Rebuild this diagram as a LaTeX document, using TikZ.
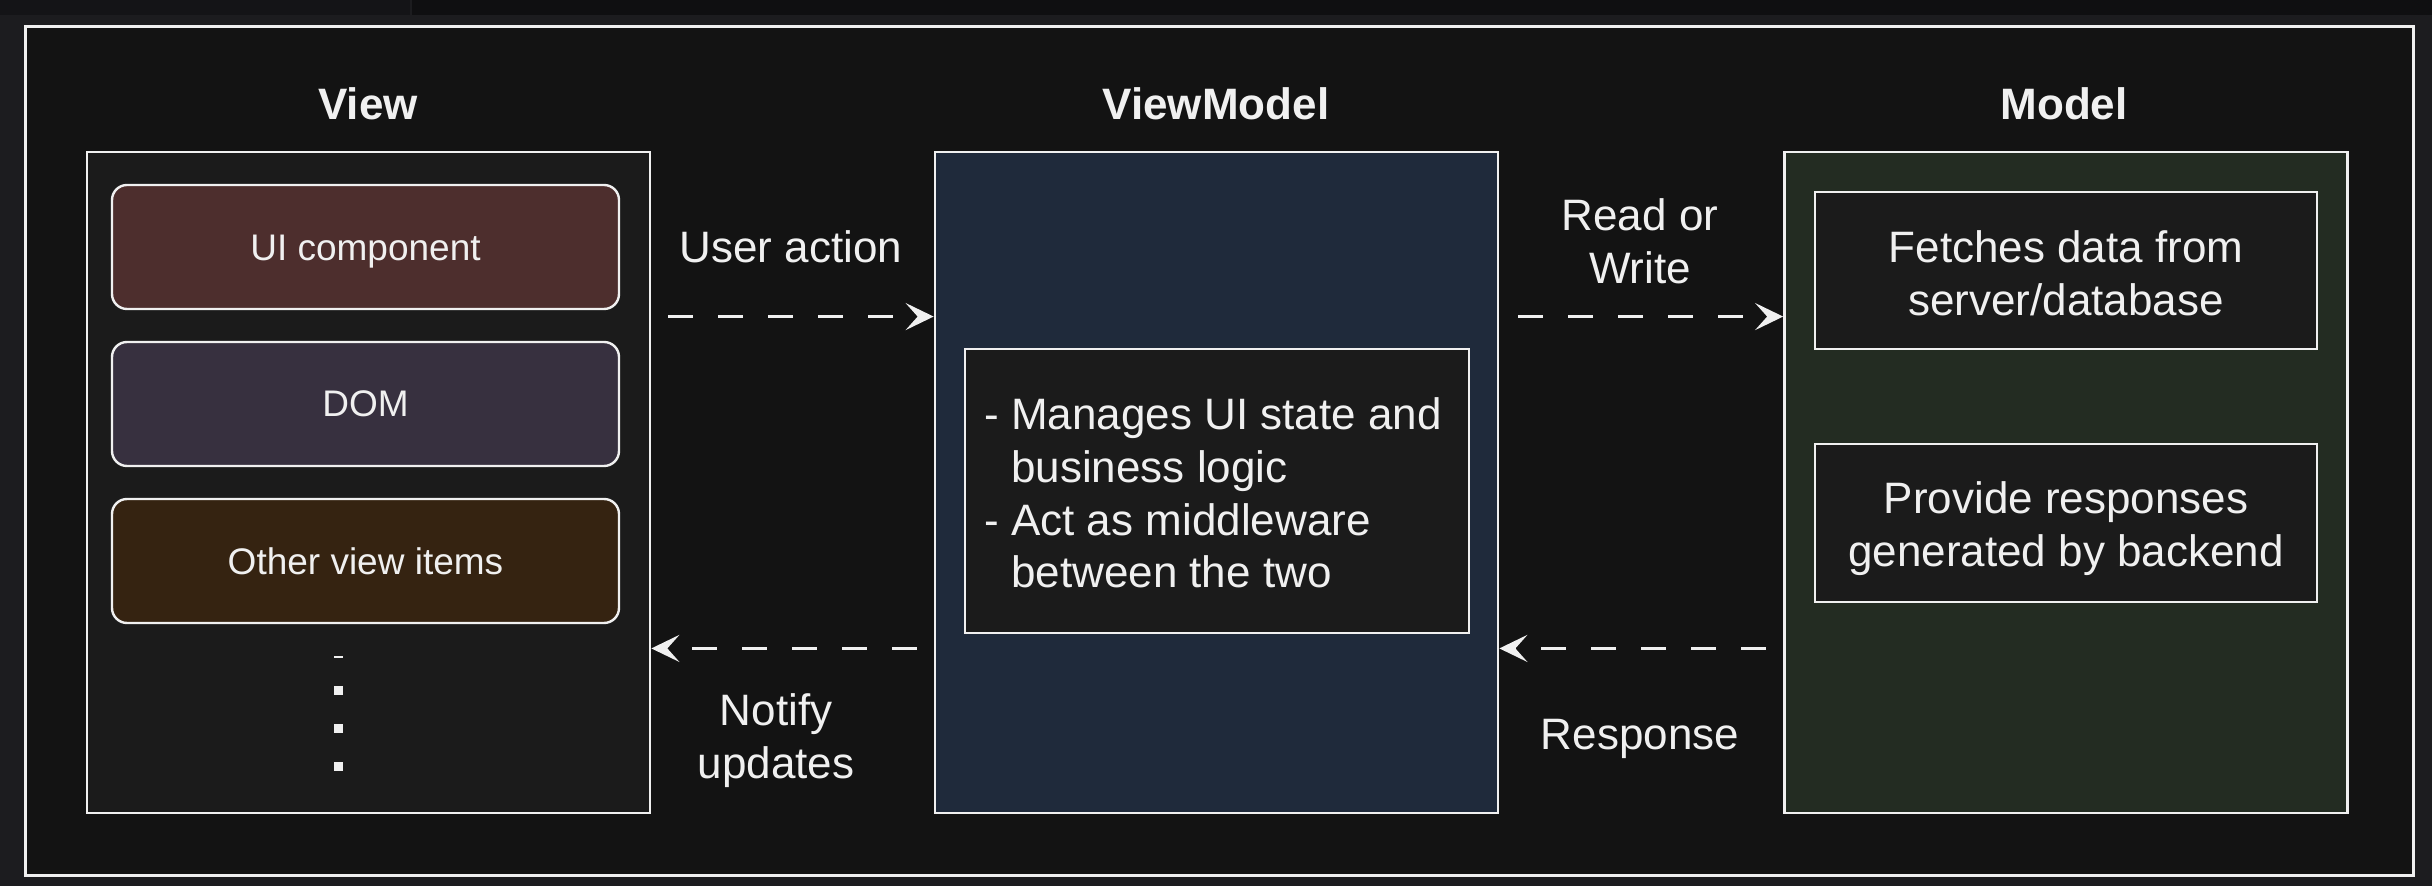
\documentclass[tikz,border=0pt]{standalone}
\usepackage{fontspec}
\setmainfont{Liberation Sans}
\usetikzlibrary{arrows.meta,calc}
\definecolor{pagebg}{HTML}{1C1C1F}
\definecolor{stripL}{HTML}{141417}
\definecolor{stripR}{HTML}{0F0F11}
\definecolor{framebg}{HTML}{131313}
\definecolor{viewbg}{HTML}{1B1B1B}
\definecolor{uibg}{HTML}{4D2E2D}
\definecolor{dombg}{HTML}{37303F}
\definecolor{othbg}{HTML}{352311}
\definecolor{vmbg}{HTML}{1F2A3B}
\definecolor{modelbg}{HTML}{232C22}
\definecolor{inbg}{HTML}{1B1B1B}
\definecolor{linec}{HTML}{F0F0F0}
\definecolor{txt}{HTML}{F0F0F0}
\begin{document}
\begin{tikzpicture}[x=0.5pt,y=-0.5pt,
  bigfont/.style={font=\fontsize{22}{26.4}\selectfont},
  smallfont/.style={font=\fontsize{18.5}{22.2}\selectfont},
  titlefont/.style={font=\bfseries\fontsize{22}{26.4}\selectfont},
  outerframe/.style={draw=linec, line width=1.5pt, fill=framebg, inner sep=0pt},
  panel/.style={draw=linec, line width=1.35pt, inner sep=0pt, minimum width=281.5pt, minimum height=330.5pt},
  item/.style={draw=linec, line width=1.2pt, rounded corners=7.5pt, minimum width=253.5pt, minimum height=62pt, inner sep=0pt},
  inbox/.style={draw=linec, line width=1.1pt, fill=inbg, inner sep=0pt},
  lbl/.style={bigfont, text=txt, align=center, inner sep=0pt},
  slbl/.style={smallfont, text=txt, align=center, inner sep=0pt},
  ttl/.style={titlefont, text=txt, inner sep=0pt},
  dotsq/.style={fill=linec, inner sep=0pt, minimum size=4.5pt},
  flow/.style={draw=linec, line width=1.6pt, dash pattern=on 12.5pt off 12.5pt,
    -{Stealth[length=14pt,width=13.5pt,inset=6pt]}}
]
\useasboundingbox (0,0) rectangle (2432,886);
% page background
\fill[pagebg] (0,0) rectangle (2432,886);
\fill[stripL] (0,0) rectangle (410,15);
\fill[stripR] (412,0) rectangle (2432,15);

% outer frame
\node[outerframe, minimum width=1194pt, minimum height=424.5pt] (frame) at (1219,451.5) {};

% titles
\node[ttl] (tview) at (368,104) {View};
\node[ttl] (tvm) at (1216,104) {ViewModel};
\node[ttl] (tmodel) at (2064,104) {Model};

% panels
\node[panel, fill=viewbg] (view) at (368.5,482.5) {};
\node[panel, fill=vmbg] (vm) at (1216.5,482.5) {};
\node[panel, fill=modelbg] (model) at (2066,482.5) {};

% view items
\node[item, fill=uibg] (ui) at (365.5,247) {};
\node[item, fill=dombg] (dom) at (365.5,404) {};
\node[item, fill=othbg] (oth) at (365.5,561) {};
\node[slbl] (uitxt) at ($(ui.center)+(0,5)$) {UI component};
\node[slbl] (domtxt) at (dom.center) {DOM};
\node[slbl] (othtxt) at (oth.center) {Other view items};
\node[fill=linec, inner sep=0pt, minimum width=4.5pt, minimum height=1pt] (dash0) at (338,657) {};
\node[dotsq] (dot1) at (338,691) {};
\node[dotsq] (dot2) at (338,729) {};
\node[dotsq] (dot3) at (338,767) {};

% viewmodel text
\node[inbox, minimum width=252pt, minimum height=142pt] (vmbox) at (1217,491) {};
\node[lbl, align=left] (vmtxt) at ($(vmbox.center)+(-4,2)$)
  {- Manages UI state and\\\phantom{- }business logic\\- Act as middleware\\\phantom{- }between the two};

% model boxes
\node[inbox, minimum width=251pt, minimum height=78.5pt] (fetch) at (2066,270.5) {};
\node[inbox, minimum width=251pt, minimum height=79pt] (provide) at (2066,523) {};
\node[lbl] (fetchtxt) at ($(fetch.center)+(0,3)$) {Fetches data from\\server/database};
\node[lbl] (providetxt) at ($(provide.center)+(0,6)$) {Provide responses\\generated by backend};

% connectors
\draw[flow] ($(view.north east)!0.25!(view.south east)+(17,0)$) -- ($(vm.north west)!0.25!(vm.south west)$);
\draw[flow] ($(vm.north east)!0.25!(vm.south east)+(19,0)$) -- ($(model.north west)!0.25!(model.south west)$);
\draw[flow] ($(vm.north west)!0.75!(vm.south west)+(-17,0)$) -- ($(view.north east)!0.75!(view.south east)$);
\draw[flow] ($(model.north west)!0.75!(model.south west)+(-17,0)$) -- ($(vm.north east)!0.75!(vm.south east)$);

% connector labels
\node[lbl] (ua) at (791,247) {User action};
\node[lbl] (rw) at (1640,241) {Read or\\Write};
\node[lbl] (nu) at (776,741) {Notify\\updates};
\node[lbl] (resp) at (1640,739) {Response};
\end{tikzpicture}
\end{document}
